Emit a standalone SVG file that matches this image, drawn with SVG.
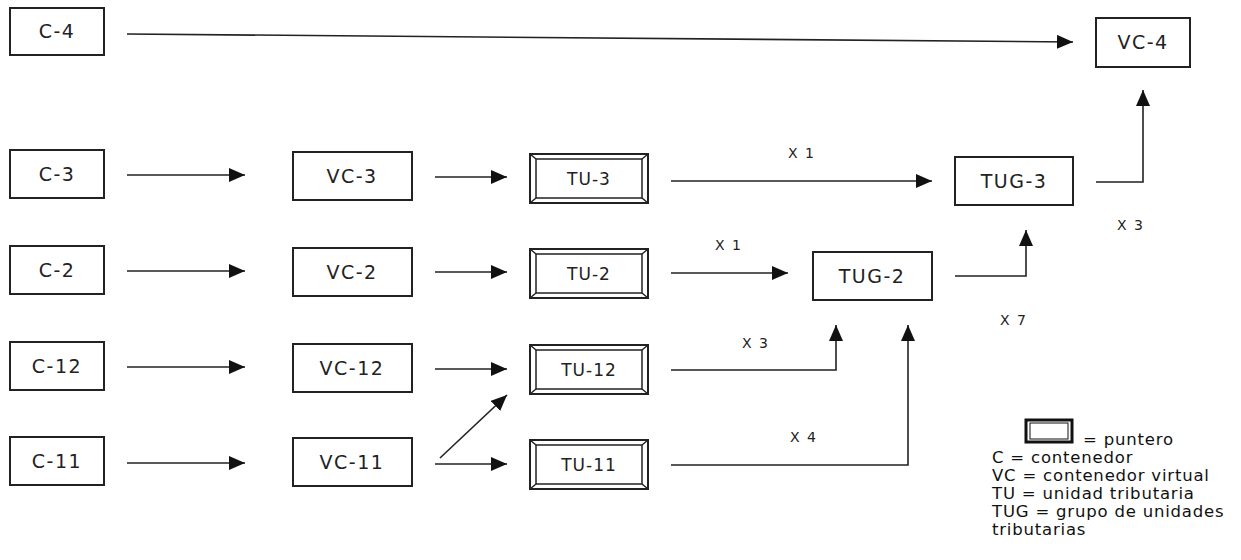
<svg xmlns="http://www.w3.org/2000/svg" width="1241" height="560" viewBox="0 0 1241 560">
<style>
.box{fill:#fff;stroke:#222;stroke-width:2}
.in{fill:none;stroke:#222;stroke-width:1.5}
.lbl{font-family:"DejaVu Sans",Verdana,sans-serif;font-size:19px;letter-spacing:1.5px;fill:#222;text-anchor:middle}
.tu{font-family:"DejaVu Sans",Verdana,sans-serif;font-size:17px;letter-spacing:1px;fill:#222;text-anchor:middle}
.x{font-family:"DejaVu Sans",Verdana,sans-serif;font-size:14px;letter-spacing:1.5px;fill:#222}
.leg{font-family:"DejaVu Sans",Verdana,sans-serif;font-size:16.5px;letter-spacing:0.8px;fill:#111}
.c{fill:none;stroke:#222;stroke-width:1.6}
</style>
<defs>
<marker id="ah" markerUnits="userSpaceOnUse" markerWidth="16" markerHeight="14" viewBox="0 0 16 14" refX="16" refY="7" orient="auto">
<path d="M0,0 L16,7 L0,14 z" fill="#111"/>
</marker>
<g id="tuframe">
<rect class="box" x="0" y="0" width="118" height="49"/>
<rect class="in" x="6" y="5" width="106" height="39"/>
<path class="in" d="M0,0 L6,5 M118,0 L112,5 M0,49 L6,44 M118,49 L112,44"/>
</g>
</defs>
<g id="connectors">
<path class="c" d="M127,34 L1073,42" marker-end="url(#ah)"/>
<path class="c" d="M127,175 L245,175" marker-end="url(#ah)"/>
<path class="c" d="M127,271 L245,271" marker-end="url(#ah)"/>
<path class="c" d="M127,367 L245,367" marker-end="url(#ah)"/>
<path class="c" d="M127,463 L245,463" marker-end="url(#ah)"/>
<path class="c" d="M435,177 L507,177" marker-end="url(#ah)"/>
<path class="c" d="M435,272 L507,272" marker-end="url(#ah)"/>
<path class="c" d="M435,369 L507,369" marker-end="url(#ah)"/>
<path class="c" d="M435,464 L507,464" marker-end="url(#ah)"/>
<path class="c" d="M440,458 L507,395" marker-end="url(#ah)"/>
<path class="c" d="M671,181 L932,181" marker-end="url(#ah)"/>
<path class="c" d="M671,273 L788,273" marker-end="url(#ah)"/>
<path class="c" d="M671,370 L836,370 L836,325" marker-end="url(#ah)"/>
<path class="c" d="M671,465 L908,465 L908,325" marker-end="url(#ah)"/>
<path class="c" d="M955,276 L1026,276 L1026,230" marker-end="url(#ah)"/>
<path class="c" d="M1096,182 L1143,182 L1143,90" marker-end="url(#ah)"/>
</g>
<g id="C-4"><rect class="box" x="10" y="8" width="94" height="47"/><text class="lbl" x="57" y="38">C-4</text></g>
<g id="C-3"><rect class="box" x="10" y="150" width="94" height="48"/><text class="lbl" x="57" y="181">C-3</text></g>
<g id="C-2"><rect class="box" x="10" y="246" width="94" height="48"/><text class="lbl" x="57" y="277">C-2</text></g>
<g id="C-12"><rect class="box" x="10" y="342" width="94" height="48"/><text class="lbl" x="57" y="373">C-12</text></g>
<g id="C-11"><rect class="box" x="10" y="437" width="94" height="48"/><text class="lbl" x="57" y="468">C-11</text></g>
<g id="VC-3"><rect class="box" x="293" y="152" width="119" height="48"/><text class="lbl" x="352" y="183">VC-3</text></g>
<g id="VC-2"><rect class="box" x="293" y="248" width="119" height="48"/><text class="lbl" x="352" y="279">VC-2</text></g>
<g id="VC-12"><rect class="box" x="293" y="344" width="119" height="48"/><text class="lbl" x="352" y="375">VC-12</text></g>
<g id="VC-11"><rect class="box" x="293" y="438" width="119" height="48"/><text class="lbl" x="352" y="469">VC-11</text></g>
<g id="TU-3"><use href="#tuframe" x="530" y="154"/><text class="tu" x="589" y="185">TU-3</text></g>
<g id="TU-2"><use href="#tuframe" x="530" y="249"/><text class="tu" x="589" y="280">TU-2</text></g>
<g id="TU-12"><use href="#tuframe" x="530" y="345"/><text class="tu" x="589" y="376">TU-12</text></g>
<g id="TU-11"><use href="#tuframe" x="530" y="440"/><text class="tu" x="589" y="471">TU-11</text></g>
<g id="TUG-2"><rect class="box" x="813" y="252" width="119" height="48"/><text class="lbl" x="872" y="283">TUG-2</text></g>
<g id="TUG-3"><rect class="box" x="955" y="157" width="118" height="48"/><text class="lbl" x="1014" y="188">TUG-3</text></g>
<g id="VC-4"><rect class="box" x="1096" y="18" width="94" height="49"/><text class="lbl" x="1143" y="49">VC-4</text></g>
<g id="labels">
<text class="x" x="788" y="158">X 1</text>
<text class="x" x="715" y="250">X 1</text>
<text class="x" x="742" y="348">X 3</text>
<text class="x" x="790" y="442">X 4</text>
<text class="x" x="1000" y="325">X 7</text>
<text class="x" x="1117" y="230">X 3</text>
</g>
<g id="legend">
<rect x="1026" y="420" width="46" height="22" fill="#fff" stroke="#111" stroke-width="3"/>
<rect x="1030" y="423" width="38" height="16" fill="none" stroke="#111" stroke-width="1"/>
<text class="leg" x="1083" y="445">= puntero</text>
<text class="leg" x="992" y="463">C = contenedor</text>
<text class="leg" x="992" y="481">VC = contenedor virtual</text>
<text class="leg" x="992" y="499">TU = unidad tributaria</text>
<text class="leg" x="992" y="517">TUG = grupo de unidades</text>
<text class="leg" x="992" y="535">tributarias</text>
</g>
</svg>
